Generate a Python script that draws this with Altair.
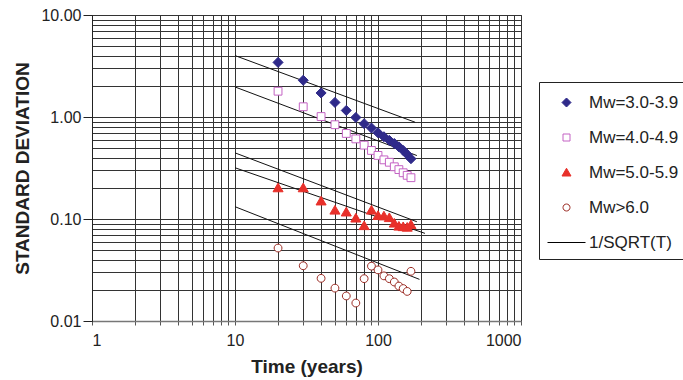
import altair as alt
import pandas as pd

# ---- data ----
SERIES = ["Mw=3.0-3.9", "Mw=4.0-4.9", "Mw=5.0-5.9", "Mw>6.0", "1/SQRT(T)"]

T_MW3 = [20, 30, 40, 50, 60, 70, 80, 90, 100, 110, 120, 130, 140, 150, 160, 170]
SD_MW3 = [3.43, 2.29, 1.72, 1.39, 1.16, 0.99, 0.86, 0.78, 0.70, 0.64, 0.59, 0.55, 0.51, 0.47, 0.43, 0.39]

T_MW4 = [20, 30, 40, 50, 60, 70, 80, 90, 100, 110, 120, 130, 140, 150, 160, 170]
SD_MW4 = [1.79, 1.26, 1.01, 0.84, 0.69, 0.61, 0.53, 0.47, 0.42, 0.38, 0.36, 0.325, 0.305, 0.284, 0.268, 0.254]

T_MW5 = [20, 30, 40, 50, 60, 70, 80, 90, 100, 110, 120, 130, 140, 150, 160, 170]
SD_MW5 = [0.202, 0.202, 0.150, 0.122, 0.117, 0.102, 0.086, 0.122, 0.108, 0.107, 0.103, 0.091, 0.085, 0.084, 0.083, 0.088]

T_MW6 = [20, 30, 40, 50, 60, 70, 80, 90, 100, 110, 120, 130, 140, 150, 160, 170]
SD_MW6 = [0.0519, 0.0348, 0.0262, 0.0210, 0.0176, 0.0150, 0.0260, 0.0345, 0.0317, 0.0277, 0.0260, 0.0241, 0.0220, 0.0208, 0.0195, 0.0307]

# 1/SQRT(T) reference lines (start / end)
LINE_T_START = [10, 10, 10, 10, 10]
LINE_T_END = [182, 187, 187, 213, 195]
LINE_SD_START = [4.0, 1.97, 0.445, 0.318, 0.132]
LINE_SD_END = [0.888, 0.419, 0.094, 0.0723, 0.0256]

X_TICKS = [1, 2, 3, 4, 5, 6, 7, 8, 9, 10, 20, 30, 40, 50, 60, 70, 80, 90,
           100, 200, 300, 400, 500, 600, 700, 800, 900, 1000]
Y_TICKS = [0.01, 0.02, 0.03, 0.04, 0.05, 0.06, 0.07, 0.08, 0.09,
           0.1, 0.2, 0.3, 0.4, 0.5, 0.6, 0.7, 0.8, 0.9,
           1, 2, 3, 4, 5, 6, 7, 8, 9, 10]
X_MAJOR = [1, 10, 100, 1000]
Y_MAJOR = [0.01, 0.1, 1, 10]

# symbol outlines (unit box) – diamond, square, triangle, circle, short line
SHAPES = [
    "M0,-0.9L0.9,0L0,0.9L-0.9,0Z",
    "M-0.7,-0.7H0.7V0.7H-0.7Z",
    "M0,-0.85L0.9,0.7L-0.9,0.7Z",
    "M0.7,0A0.7,0.7,0,1,1,-0.7,0A0.7,0.7,0,1,1,0.7,0Z",
    "M-3.8,0H3.8",
]
STROKES = ["#2f2a8a", "#c463c4", "#e8302a", "#9b2a22", "#000000"]
FILLS = ["#2f2a8a", "#ffffff", "#e8302a", "#ffffff", "#ffffff"]

# ---- tables ----
rows = []
for name, ts, vs in [(SERIES[0], T_MW3, SD_MW3), (SERIES[1], T_MW4, SD_MW4),
                     (SERIES[2], T_MW5, SD_MW5), (SERIES[3], T_MW6, SD_MW6)]:
    for t, v in zip(ts, vs):
        rows.append({"series": name, "T": t, "SD": v})
points = pd.DataFrame(rows)

lrows = []
for i in range(len(LINE_T_START)):
    lrows.append({"line": i, "T": LINE_T_START[i], "SD": LINE_SD_START[i]})
    lrows.append({"line": i, "T": LINE_T_END[i], "SD": LINE_SD_END[i]})
lines = pd.DataFrame(lrows)

FONT = "Liberation Sans"
x_major_test = "indexof(%s, datum.value) >= 0" % str(X_MAJOR)
y_major_test = "indexof(%s, datum.value) >= 0" % str(Y_MAJOR)

x_enc = alt.X(
    "T:Q",
    scale=alt.Scale(type="log", domain=[1, 1000]),
    axis=alt.Axis(
        values=X_TICKS,
        labelExpr=x_major_test + " ? datum.label : ''",
        format="d",
        grid=True, gridColor="#333333", gridWidth=1, gridOpacity=1,
        tickSize=4, tickColor="#555555",
        domainColor="#777777", domainWidth=1.5,
        labelFont=FONT, labelFontSize=16, labelColor="#222222", labelPadding=7,
        title="Time (years)", titleFont=FONT, titleFontSize=19, titleFontWeight="bold",
        titleColor="#222222", titlePadding=9,
    ),
)
y_enc = alt.Y(
    "SD:Q",
    scale=alt.Scale(type="log", domain=[0.01, 10]),
    axis=alt.Axis(
        values=Y_TICKS,
        labelExpr=y_major_test + " ? format(datum.value, '.2f') : ''",
        grid=True, gridColor="#333333", gridWidth=1, gridOpacity=1,
        tickSize={"condition": {"test": y_major_test, "value": 9}, "value": 0},
        tickColor="#222222",
        domainColor="#222222", domainWidth=1,
        labelFont=FONT, labelFontSize=16, labelColor="#222222", labelPadding=2,
        title="STANDARD DEVIATION", titleFont=FONT, titleFontSize=19, titleFontWeight="bold",
        titleColor="#222222", titlePadding=8,
    ),
)

legend = alt.Legend(
    title=" ", titleFontSize=2, titlePadding=2,
    orient="none", legendX=447, legendY=67,
    strokeColor="#222222", fillColor="white", padding=8,
    labelFont=FONT, labelFontSize=17, labelColor="#222222", labelLimit=300,
    symbolSize=100, symbolOffset=11, labelOffset=14, rowPadding=17,
    symbolStrokeWidth=1,
)

pts = alt.Chart(points).mark_point(opacity=1, strokeWidth=1, size=125).encode(
    x=x_enc, y=y_enc,
    shape=alt.Shape("series:N", scale=alt.Scale(domain=SERIES, range=SHAPES), legend=legend),
    stroke=alt.Stroke("series:N", scale=alt.Scale(domain=SERIES, range=STROKES), legend=legend),
    fill=alt.Fill("series:N", scale=alt.Scale(domain=SERIES, range=FILLS), legend=legend),
)

lns = alt.Chart(lines).mark_line(color="#111111", strokeWidth=1).encode(
    x=x_enc, y=y_enc, detail="line:N",
)

chart = alt.layer(lns, pts).properties(
    width=429, height=306,
    autosize=alt.AutoSizeParams(type="none"),
    padding={"left": 92, "top": 15, "right": 162, "bottom": 59},
).configure_view(stroke="#333333", strokeWidth=1)

chart.save("out.html", embed_options={"renderer": "svg", "actions": False})
